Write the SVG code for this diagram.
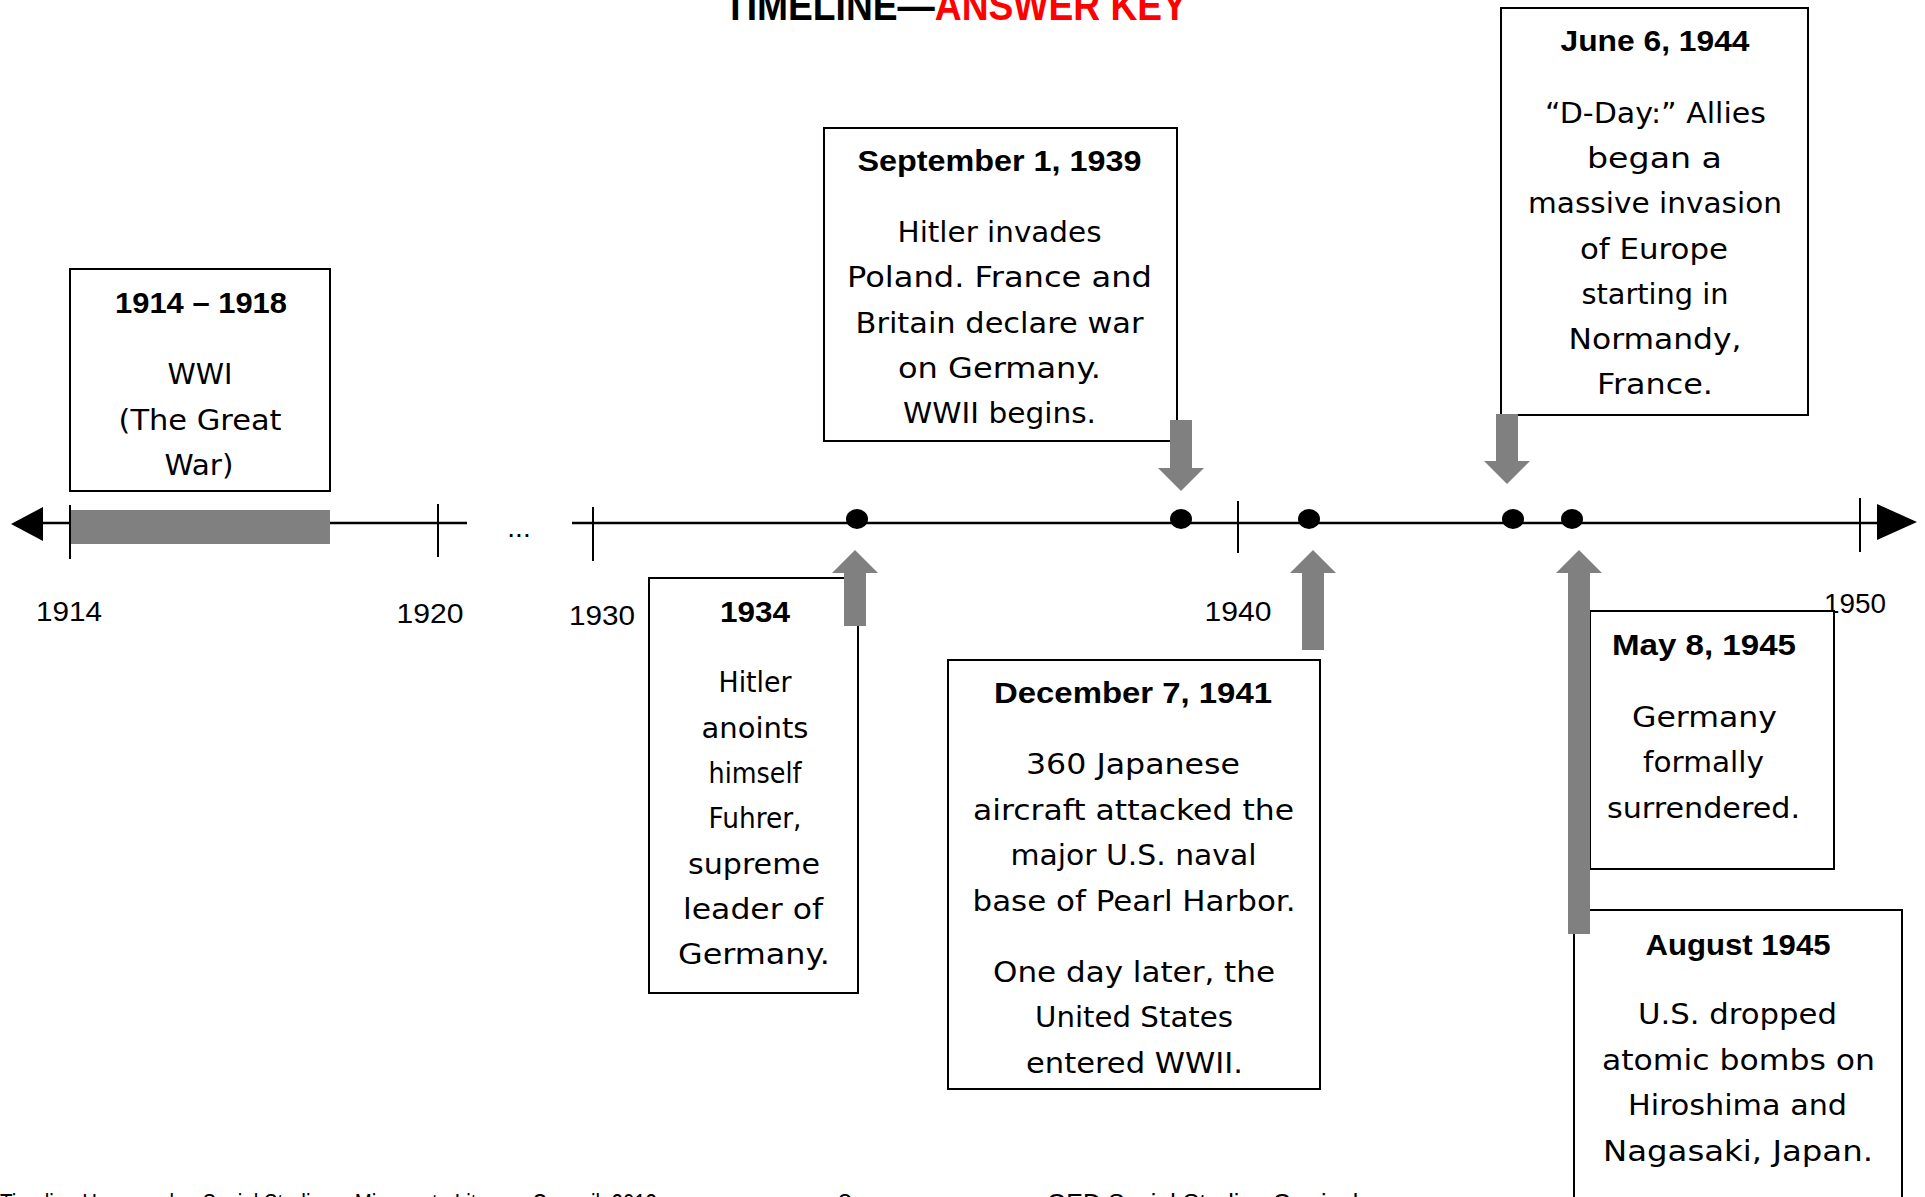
<svg xmlns="http://www.w3.org/2000/svg" width="1925" height="1197" viewBox="0 0 1925 1197">
<style>
.box{fill:#fff;stroke:#000;stroke-width:2}
.h{font-family:"Liberation Sans",Arial,sans-serif;font-weight:bold;font-size:29px;fill:#000;text-anchor:middle}
.b{font-family:"DejaVu Sans","Liberation Sans",sans-serif;font-size:28px;fill:#000;text-anchor:middle}
.yr{font-family:"Liberation Sans",Arial,sans-serif;font-size:28px;fill:#000;text-anchor:middle}
.ax{stroke:#000;stroke-width:2.5;fill:none}
.tk{stroke:#000;stroke-width:2;fill:none}
.ar{fill:#808080}
.dot{fill:#000}
.ft{font-family:"Liberation Sans",Arial,sans-serif;font-size:25px;fill:#000}
</style>
<rect width="1925" height="1197" fill="#fff"/>
<g id="title">
<text x="724" y="20" font-family="Liberation Sans,Arial,sans-serif" font-weight="bold" font-size="42" fill="#000" textLength="463" lengthAdjust="spacingAndGlyphs">TIMELINE—<tspan fill="#ff0000">ANSWER KEY</tspan></text>
</g>
<g id="axis">
<line class="ax" x1="40" y1="523" x2="467" y2="523"/>
<line class="ax" x1="572" y1="523" x2="1880" y2="523"/>
<polygon points="11,524 43,507 43,541" fill="#000"/>
<polygon points="1917,522 1877,504 1877,540" fill="#000"/>
<rect x="70" y="510" width="260" height="34" fill="#808080"/>
<line class="tk" x1="70" y1="505" x2="70" y2="559"/>
<line class="tk" x1="438" y1="504" x2="438" y2="557"/>
<line class="tk" x1="593" y1="507" x2="593" y2="561"/>
<line class="tk" x1="1238" y1="501" x2="1238" y2="553"/>
<line class="tk" x1="1860" y1="498" x2="1860" y2="552"/>
<text class="yr" x="519" y="537">...</text>
<text class="yr" x="69" y="621" textLength="66" lengthAdjust="spacingAndGlyphs">1914</text>
<text class="yr" x="430" y="623" textLength="67" lengthAdjust="spacingAndGlyphs">1920</text>
<text class="yr" x="602" y="625" textLength="66" lengthAdjust="spacingAndGlyphs">1930</text>
<text class="yr" x="1238" y="621" textLength="67" lengthAdjust="spacingAndGlyphs">1940</text>
<text class="yr" x="1855" y="613" textLength="62" lengthAdjust="spacingAndGlyphs">1950</text>
<ellipse class="dot" cx="857" cy="519" rx="11" ry="10"/>
<ellipse class="dot" cx="1181" cy="519" rx="11" ry="10"/>
<ellipse class="dot" cx="1309" cy="519" rx="11" ry="10"/>
<ellipse class="dot" cx="1513" cy="519" rx="11" ry="10"/>
<ellipse class="dot" cx="1572" cy="519" rx="11" ry="10"/>
</g>
<g id="node-1914">
<rect class="box" x="70" y="269" width="260" height="222"/>
<text class="h" x="201" y="313" textLength="172" lengthAdjust="spacingAndGlyphs">1914 – 1918</text>
<text class="b" x="200" y="384" textLength="65" lengthAdjust="spacingAndGlyphs">WWI</text>
<text class="b" x="200" y="430" textLength="163" lengthAdjust="spacingAndGlyphs">(The Great</text>
<text class="b" x="199" y="475" textLength="69" lengthAdjust="spacingAndGlyphs">War)</text>
</g>
<g id="node-1939">
<rect class="box" x="824" y="128" width="353" height="313"/>
<text class="h" x="999.5" y="170.5" textLength="284" lengthAdjust="spacingAndGlyphs">September 1, 1939</text>
<text class="b" x="999.5" y="242" textLength="204" lengthAdjust="spacingAndGlyphs">Hitler invades</text>
<text class="b" x="999.5" y="287" textLength="305" lengthAdjust="spacingAndGlyphs">Poland. France and</text>
<text class="b" x="999.5" y="332.7" textLength="288" lengthAdjust="spacingAndGlyphs">Britain declare war</text>
<text class="b" x="999.5" y="378" textLength="203" lengthAdjust="spacingAndGlyphs">on Germany.</text>
<text class="b" x="999.5" y="423.3" textLength="193" lengthAdjust="spacingAndGlyphs">WWII begins.</text>
</g>
<g id="node-1944">
<rect class="box" x="1501" y="8" width="307" height="407"/>
<text class="h" x="1655" y="51" textLength="189" lengthAdjust="spacingAndGlyphs">June 6, 1944</text>
<text class="b" x="1655.5" y="123" textLength="221" lengthAdjust="spacingAndGlyphs">“D-Day:” Allies</text>
<text class="b" x="1654.5" y="168" textLength="135" lengthAdjust="spacingAndGlyphs">began a</text>
<text class="b" x="1655" y="213" textLength="254" lengthAdjust="spacingAndGlyphs">massive invasion</text>
<text class="b" x="1654" y="258.5" textLength="148" lengthAdjust="spacingAndGlyphs">of Europe</text>
<text class="b" x="1655" y="303.5" textLength="147" lengthAdjust="spacingAndGlyphs">starting in</text>
<text class="b" x="1655" y="349" textLength="173" lengthAdjust="spacingAndGlyphs">Normandy,</text>
<text class="b" x="1655" y="394" textLength="116" lengthAdjust="spacingAndGlyphs">France.</text>
</g>
<g id="node-1934">
<rect class="box" x="649" y="578" width="209" height="415"/>
<text class="h" x="755" y="621.7" textLength="70" lengthAdjust="spacingAndGlyphs">1934</text>
<text class="b" x="755" y="692.4" textLength="73" lengthAdjust="spacingAndGlyphs">Hitler</text>
<text class="b" x="755" y="737.7" textLength="107" lengthAdjust="spacingAndGlyphs">anoints</text>
<text class="b" x="755" y="783" textLength="93" lengthAdjust="spacingAndGlyphs">himself</text>
<text class="b" x="755" y="828.3" textLength="93" lengthAdjust="spacingAndGlyphs">Fuhrer,</text>
<text class="b" x="754" y="873.6" textLength="132" lengthAdjust="spacingAndGlyphs">supreme</text>
<text class="b" x="753" y="919" textLength="140" lengthAdjust="spacingAndGlyphs">leader of</text>
<text class="b" x="754" y="964.3" textLength="152" lengthAdjust="spacingAndGlyphs">Germany.</text>
</g>
<g id="node-1941">
<rect class="box" x="948" y="660" width="372" height="429"/>
<text class="h" x="1133" y="703" textLength="278" lengthAdjust="spacingAndGlyphs">December 7, 1941</text>
<text class="b" x="1133" y="774" textLength="214" lengthAdjust="spacingAndGlyphs">360 Japanese</text>
<text class="b" x="1133.5" y="819.5" textLength="321" lengthAdjust="spacingAndGlyphs">aircraft attacked the</text>
<text class="b" x="1133.5" y="865" textLength="246" lengthAdjust="spacingAndGlyphs">major U.S. naval</text>
<text class="b" x="1134" y="910.5" textLength="323" lengthAdjust="spacingAndGlyphs">base of Pearl Harbor.</text>
<text class="b" x="1134" y="982" textLength="282" lengthAdjust="spacingAndGlyphs">One day later, the</text>
<text class="b" x="1134" y="1027.3" textLength="198" lengthAdjust="spacingAndGlyphs">United States</text>
<text class="b" x="1134.5" y="1072.6" textLength="217" lengthAdjust="spacingAndGlyphs">entered WWII.</text>
</g>
<g id="node-1945-may">
<rect class="box" x="1590" y="611" width="244" height="258"/>
<text class="h" x="1704" y="655" textLength="184" lengthAdjust="spacingAndGlyphs">May 8, 1945</text>
<text class="b" x="1704.5" y="727" textLength="145" lengthAdjust="spacingAndGlyphs">Germany</text>
<text class="b" x="1703.5" y="772" textLength="121" lengthAdjust="spacingAndGlyphs">formally</text>
<text class="b" x="1703.5" y="817.6" textLength="193" lengthAdjust="spacingAndGlyphs">surrendered.</text>
</g>
<g id="node-1945-aug">
<rect class="box" x="1574" y="910" width="328" height="300"/>
<text class="h" x="1738" y="955" textLength="185" lengthAdjust="spacingAndGlyphs">August 1945</text>
<text class="b" x="1737.5" y="1024" textLength="199" lengthAdjust="spacingAndGlyphs">U.S. dropped</text>
<text class="b" x="1738.5" y="1070" textLength="273" lengthAdjust="spacingAndGlyphs">atomic bombs on</text>
<text class="b" x="1737.5" y="1115" textLength="219" lengthAdjust="spacingAndGlyphs">Hiroshima and</text>
<text class="b" x="1738" y="1161" textLength="270" lengthAdjust="spacingAndGlyphs">Nagasaki, Japan.</text>
</g>
<g id="connectors">
<polygon class="ar" points="855,550 878,573 866,573 866,626 844,626 844,573 832,573"/>
<polygon class="ar" points="1313,550 1336,573 1324,573 1324,650 1302,650 1302,573 1290,573"/>
<polygon class="ar" points="1579,550 1602,573 1590,573 1590,934 1568,934 1568,573 1556,573"/>
<polygon class="ar" points="1181,491 1204,468 1192,468 1192,420 1170,420 1170,468 1158,468"/>
<polygon class="ar" points="1507,484 1530,461 1518,461 1518,414 1496,414 1496,461 1484,461"/>
</g>
<g id="footer">
<text class="ft" x="0" y="1212" textLength="657" lengthAdjust="spacingAndGlyphs">Timeline Homework – Social Studies – Minnesota Literacy Council, 2013</text>
<text class="ft" x="838" y="1212">8</text>
<text class="ft" x="1047" y="1212" textLength="346" lengthAdjust="spacingAndGlyphs">GED Social Studies Curriculum</text>
</g>
</svg>
